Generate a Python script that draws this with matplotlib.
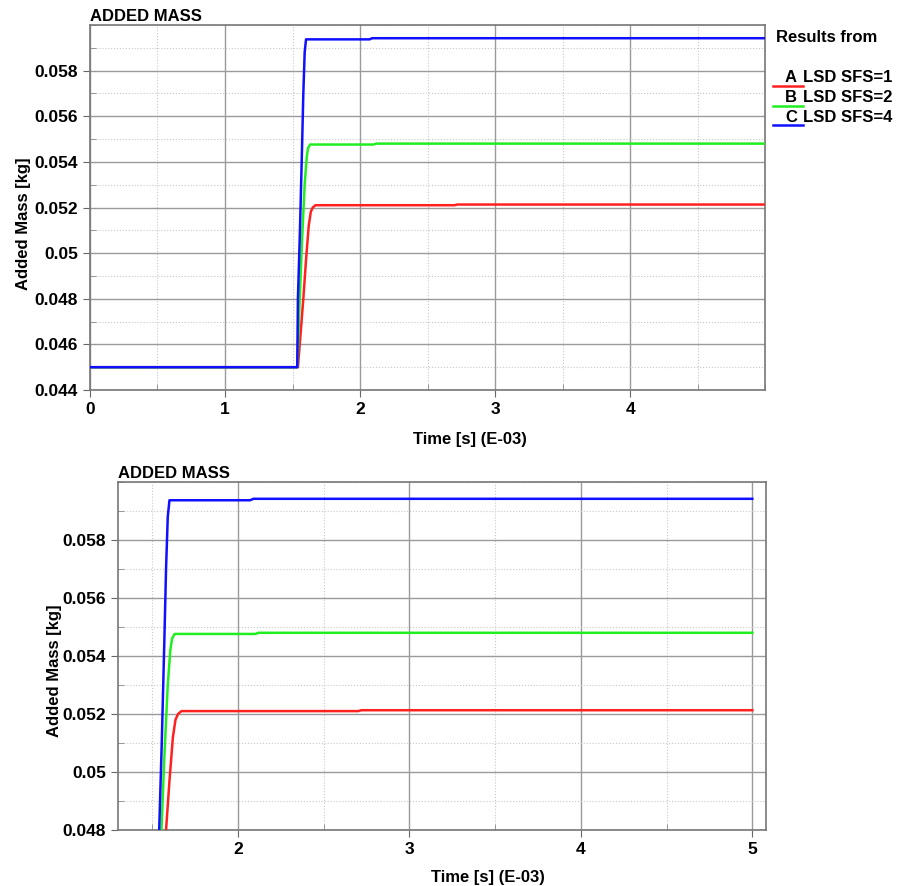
import numpy as np
import matplotlib
matplotlib.use("Agg")
import matplotlib.pyplot as plt
from matplotlib.ticker import MultipleLocator, FuncFormatter
from matplotlib.lines import Line2D

plt.rcParams['font.family'] = ['Liberation Sans', 'DejaVu Sans']
plt.rcParams['font.weight'] = 'bold'

# time in ms (E-03 s), added mass in kg
t_a = [0, 1.54, 1.56, 1.58, 1.60, 1.62, 1.635, 1.65, 1.67, 2.70, 2.72, 5.0]
m_a = [0.0450, 0.0450, 0.0465, 0.0480, 0.0497, 0.0512, 0.0518, 0.0520, 0.0521,
       0.0521, 0.05213, 0.05213]

t_b = [0, 1.535, 1.55, 1.57, 1.59, 1.605, 1.615, 1.63, 2.10, 2.12, 5.0]
m_b = [0.0450, 0.0450, 0.0475, 0.0505, 0.0530, 0.0542, 0.0546, 0.05476,
       0.05476, 0.0548, 0.0548]

t_c = [0, 1.535, 1.540, 1.555, 1.570, 1.580, 1.590, 1.600, 2.07, 2.09, 5.0]
m_c = [0.0450, 0.0450, 0.0480, 0.0510, 0.0545, 0.0570, 0.0588, 0.05937,
       0.05937, 0.05942, 0.05942]

labels = ["LSD SFS=1", "LSD SFS=2", "LSD SFS=4"]
letters = ["A", "B", "C"]
colors = ["#ff2020", "#20ee20", "#1010ff"]

fig = plt.figure(figsize=(8.97, 8.86), dpi=100)
ax1 = fig.add_axes([0.1003, 0.5598, 0.7527, 0.4120])
ax2 = fig.add_axes([0.1316, 0.0632, 0.7224, 0.3928])

fmt = FuncFormatter(lambda v, p: f"{v:g}")


def style(ax, xlim, ylim, xticks, yticks):
    for t, m, c in zip([t_a, t_b, t_c], [m_a, m_b, m_c], colors):
        ax.plot(t, m, color=c, lw=1.8, zorder=3)
    ax.set_xlim(*xlim)
    ax.set_ylim(*ylim)
    ax.set_xticks(xticks)
    ax.set_yticks(yticks)
    ax.xaxis.set_minor_locator(MultipleLocator(0.5))
    ax.yaxis.set_minor_locator(MultipleLocator(0.001))
    ax.yaxis.set_major_formatter(fmt)
    ax.grid(which='major', color='#9a9a9a', lw=1.0, zorder=1)
    ax.grid(which='minor', color='#c8c8c8', lw=0.8, ls=':', zorder=1)
    ax.tick_params(which='major', direction='out', length=5, color='#666666',
                   labelsize=12.5)
    ax.tick_params(which='minor', direction='in', length=4, color='#888888')
    for lab in ax.get_xticklabels() + ax.get_yticklabels():
        lab.set_fontweight('bold')
    for s in ax.spines.values():
        s.set_color('#777777')
        s.set_linewidth(1.2)
    ax.set_title("ADDED MASS", loc='left', fontsize=12, fontweight='bold', pad=3)
    ax.set_ylabel("Added Mass [kg]", fontsize=12, fontweight='bold')
    ax.set_xlabel("Time [s] (E-03)", fontsize=12, fontweight='bold')


style(ax1, (0, 5.0), (0.044, 0.060), [0, 1, 2, 3, 4],
      np.arange(0.044, 0.0585, 0.002))
style(ax2, (1.30, 5.08), (0.048, 0.060), [2, 3, 4, 5],
      np.arange(0.048, 0.0585, 0.002))
ax1.xaxis.set_label_coords(0.563, -0.115)
ax2.xaxis.set_label_coords(0.571, -0.115)
ax1.yaxis.set_label_coords(-0.087, 0.455)
ax2.yaxis.set_label_coords(-0.086, 0.457)

# legend
fig.text(776 / 897, 1 - 38 / 886, "Results from", fontsize=12, fontweight='bold',
         va='center', ha='left')
for i, (lt, lb, c) in enumerate(zip(letters, labels, colors)):
    y = 1 - (78 + i * 19.5) / 886
    fig.text(785 / 897, y, lt, fontsize=12, fontweight='bold', va='center', ha='left')
    fig.text(803 / 897, y, lb, fontsize=12, fontweight='bold', va='center', ha='left')
    fig.add_artist(Line2D([773 / 897, 803 / 897], [y - 8 / 886, y - 8 / 886],
                          color=c, lw=1.8, transform=fig.transFigure))

fig.savefig("out.png", dpi=100)
